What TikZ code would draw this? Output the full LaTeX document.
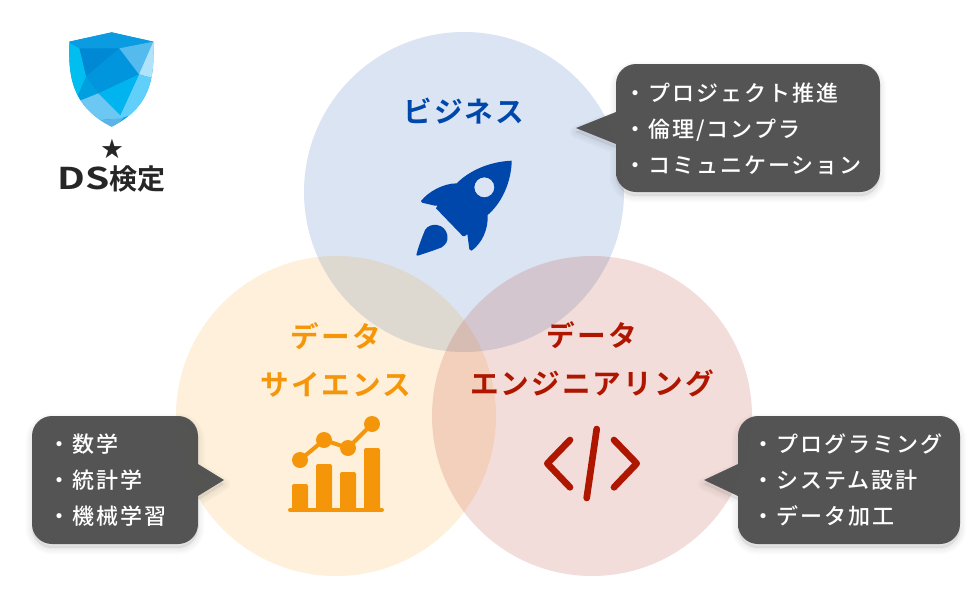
\documentclass[tikz,border=0pt]{standalone}
\usepackage{fontspec}
\setmainfont{Noto Sans CJK JP}[BoldFont={Noto Sans CJK JP Bold}]
\newfontfamily\headfont[LetterSpace=7]{Noto Sans CJK JP Bold}
\newfontfamily\calloutfont[LetterSpace=9]{Noto Sans CJK JP Medium}
\newfontfamily\logofont{Noto Sans CJK JP Bold}
\newfontfamily\dsfont[FakeStretch=1.3]{Noto Sans CJK JP Bold}
\newfontfamily\symfont{DejaVu Sans}
\definecolor{biz}{HTML}{0047AB}
\definecolor{sci}{HTML}{F5960A}
\definecolor{eng}{HTML}{AE1600}
\definecolor{dark}{HTML}{505050}
\tikzset{
  venn/.style={circle,inner sep=0pt,minimum size=240pt,fill opacity=0.145,text opacity=1},
  headtext/.style={font=\headfont\fontsize{21.5pt}{36pt}\selectfont,align=center,inner sep=0pt},
  calltext/.style={font=\calloutfont\fontsize{16.5pt}{27pt}\selectfont,text=white,align=left,inner sep=0pt,anchor=west},
}
\newcommand{\calloutpath}[1]{%
 \foreach \w in {1,...,6}{
  \fill[black,fill opacity=0.012,draw=black,draw opacity=0.012,line join=round,line width=\w*1.6pt,yshift=-3pt] #1;}
 \path[fill=dark,fill opacity=0.97] #1;
}
\begin{document}
\begin{tikzpicture}[x=0.75pt,y=-0.75pt]
\useasboundingbox (0,0) rectangle (978,608);
\node[venn,fill=biz] (cb) at (464,192) {};
\node[venn,fill=sci] (cs) at (336,416) {};
\node[venn,fill=eng] (ce) at (592,416) {};
% shield
\begin{scope}[shift={(40,20)},x=0.25pt,y=-0.25pt]
 \clip (215,37) -- (340,65) .. controls (342,150) and (345,255) .. (215,320) .. controls (85,255) and (86,150) .. (88,65) -- cycle;
 \fill[color={rgb,255:red,0;green,160;blue,225}] (60,20) rectangle (370,340);
 \fill[color={rgb,255:red,10;green,155;blue,225}] (88,65)--(215,37)--(340,65)--(238,85)--(118,85)--cycle;
 \fill[color={rgb,255:red,0;green,136;blue,212}] (118,85)--(238,85)--(138,170)--cycle;
 \fill[color={rgb,255:red,0;green,149;blue,220}] (238,85)--(297,163)--(175,220)--(138,170)--cycle;
 \fill[color={rgb,255:red,85;green,187;blue,238}] (238,85)--(340,65)--(297,163)--cycle;
 \fill[color={rgb,255:red,176;green,226;blue,250}] (340,65)--(350,178)--(297,163)--cycle;
 \fill[color={rgb,255:red,96;green,207;blue,250}] (297,163)--(350,178)--(340,260)--(235,298)--cycle;
 \fill[color={rgb,255:red,0;green,180;blue,240}] (297,163)--(235,298)--(175,220)--cycle;
 \fill[color={rgb,255:red,0;green,190;blue,240}] (80,65)--(118,85)--(138,170)--(105,248)--(80,200)--cycle;
 \fill[color={rgb,255:red,0;green,159;blue,223}] (105,248)--(138,170)--(175,220)--cycle;
 \fill[color={rgb,255:red,108;green,200;blue,242}] (105,248)--(175,220)--(250,295)--(180,300)--(120,270)--cycle;
 \fill[color={rgb,255:red,90;green,180;blue,229}] (180,300)--(250,295)--(215,330)--cycle;
\end{scope}
\node[font=\symfont\fontsize{20pt}{22pt}\selectfont,text=black!85,inner sep=0pt] (star) at (112,149) {★};
\node[font=\logofont\fontsize{21pt}{24pt}\selectfont,text=black!85,inner sep=0pt] (logo) at (111.5,179) {{\dsfont\fontsize{22.5pt}{24pt}\selectfont DS}検定};
% headings
\node[headtext,text=biz] (hb) at (464,111) {ビジネス};
\node[headtext,text=sci] (hs) at (336,359.5) {データ\\サイエンス};
\node[headtext,text=eng] (he) at (592,359.5) {データ\\エンジニアリング};
% rocket
\begin{scope}[shift={(390,140)},x=0.25pt,y=-0.25pt]
 \fill[biz,even odd rule,line join=round] (365,62) .. controls (300,65) and (240,90) .. (200,130) .. controls (160,130) and (115,155) .. (93,183) -- (96,188) -- (135,197) -- (142,197) -- (138,205) -- (218,288) -- (225,288) -- (232,282) -- (238,328) -- (245,332) .. controls (275,310) and (295,270) .. (293,225) .. controls (345,180) and (365,110) .. (365,62) -- cycle
   (283,142) circle[radius=30];
 \fill[biz] (79,345) .. controls (85,320) and (95,295) .. (105,270) .. controls (120,245) and (165,250) .. (172,285) .. controls (176,305) and (165,315) .. (155,322) .. controls (130,332) and (105,340) .. (83,347) -- cycle;
\end{scope}
% chart
\foreach \x/\t in {292/484,316/464,340/472,364/448}
  \fill[sci,rounded corners=1.5pt] (\x,\t) rectangle (\x+16,510);
\draw[sci,line width=3pt,line cap=round] (290,510) -- (382,510);
\draw[sci,line width=3pt] (300,460) -- (324,440) -- (348,448) -- (372,424);
\foreach \x/\y in {300/460,324/440,348/448,372/424}
  \fill[sci] (\x,\y) circle[radius=8];
% code
\draw[eng,line width=5pt,line cap=round,line join=round] (570,440) -- (547.3,463.5) -- (570,487.3);
\draw[eng,line width=5pt,line cap=round] (596.7,429) -- (586.7,498);
\draw[eng,line width=5pt,line cap=round,line join=round] (614,440) -- (636.7,463.5) -- (614,487.3);
% callouts
\calloutpath{(576,128) -- (616,112) -- (616,100) [rounded corners=15pt] -- (616,64) -- (880,64) -- (880,192) -- (616,192) -- (616,156) [sharp corners] -- (616,144) -- cycle}
\calloutpath{(224,480) -- (198,464) -- (198,452) [rounded corners=15pt] -- (198,416) -- (32,416) -- (32,544) -- (198,544) -- (198,508) [sharp corners] -- (198,496) -- cycle}
\calloutpath{(704,480) -- (738,464) -- (738,452) [rounded corners=15pt] -- (738,416) -- (960,416) -- (960,544) -- (738,544) -- (738,508) [sharp corners] -- (738,496) -- cycle}
\node[calltext] (t1) at (624,128.5) {・プロジェクト推進\\・倫理/コンプラ\\・コミュニケーション};
\node[calltext] (t2) at (48,480.5) {・数学\\・統計学\\・機械学習};
\node[calltext] (t3) at (752,480.5) {・プログラミング\\・システム設計\\・データ加工};
\end{tikzpicture}
\end{document}
